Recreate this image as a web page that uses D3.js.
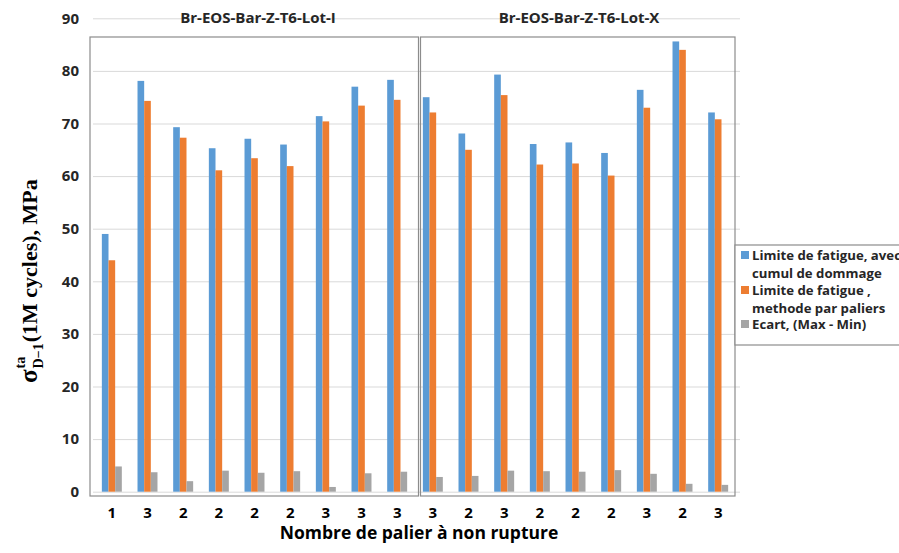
<!DOCTYPE html>
<html><head><meta charset="utf-8">
<script src="https://cdn.jsdelivr.net/npm/d3@7"></script>
<style>body{margin:0;background:#fff;overflow:hidden}svg{display:block}</style>
</head><body>
<svg id="c" width="899" height="553"></svg>
<script>
// ---- data ----
const panels = ["Br-EOS-Bar-Z-T6-Lot-I", "Br-EOS-Bar-Z-T6-Lot-X"];
const tickLabels = ["1","3","2","2","2","2","3","3","3", "3","2","3","2","2","2","3","2","3"];
const seriesNames = ["Limite de fatigue, avec cumul de dommage", "Limite de fatigue , methode par paliers", "Ecart, (Max - Min)"];
const cumulDommage = [49.0,78.1,69.3,65.3,67.1,66.0,71.4,77.0,78.3, 75.0,68.1,79.3,66.1,66.4,64.4,76.4,85.6,72.1];
const methodePaliers = [44.0,74.3,67.3,61.1,63.4,61.9,70.4,73.4,74.5, 72.1,65.0,75.4,62.2,62.4,60.1,73.0,84.0,70.8];
const ecart = [4.8,3.7,2.0,4.0,3.6,3.9,0.9,3.5,3.8, 2.8,3.0,4.0,3.9,3.8,4.1,3.4,1.5,1.3];
const yTicks = [0,10,20,30,40,50,60,70,80,90];
const colors = ["#5B9BD5", "#ED7D31", "#A5A5A5"];

const svg = d3.select("#c");
const F = "'Open Sans', sans-serif";
const y = d3.scaleLinear().domain([0, 90]).range([491.7, 18.3]);
const idx = d3.range(tickLabels.length);
const x = d3.scaleBand().domain(idx).range([94, 736]).paddingInner(0.44).paddingOuter(0.22);
const xs = d3.scaleBand().domain([0,1,2]).range([0, x.bandwidth()]);

// gridlines
const gAxis = d3.axisLeft(y).tickValues(yTicks).tickSize(-(740 - 93)).tickPadding(14);
const ga = svg.append("g").attr("transform", "translate(93,0)").call(gAxis);
ga.select(".domain").remove();
ga.selectAll(".tick line").attr("stroke", "#d9d9d9").attr("stroke-width", 1);
ga.selectAll(".tick text").attr("font-family", F).attr("font-weight", "bold").attr("font-size", 15).attr("fill", "#262626");

// panel boxes
const boxes = [[90, 418.5], [420.5, 735]];
boxes.forEach(b => svg.append("rect").attr("x", b[0]).attr("y", 37).attr("width", b[1] - b[0]).attr("height", 496 - 37)
  .attr("fill", "none").attr("stroke", "#8c8c8c").attr("stroke-width", 1.2));

// panel titles
const titleX = [258, 579];
panels.forEach((p, i) => svg.append("text").attr("x", titleX[i]).attr("y", 23).attr("text-anchor", "middle")
  .attr("font-family", F).attr("font-weight", "bold").attr("font-size", 15).attr("fill", "#262626").text(p));

// bars
const series = [cumulDommage, methodePaliers, ecart];
series.forEach((vals, s) => {
  svg.append("g").selectAll("rect").data(vals).join("rect")
    .attr("x", (d, i) => x(i) + xs(s))
    .attr("width", xs.bandwidth())
    .attr("y", d => y(d))
    .attr("height", d => y(0) - y(d))
    .attr("fill", colors[s]);
});

// x axis labels
const xa = d3.axisBottom(x).tickFormat(i => tickLabels[i]).tickSize(0).tickPadding(10);
const gx = svg.append("g").attr("transform", "translate(0,497)").call(xa);
gx.select(".domain").remove();
gx.selectAll(".tick text").attr("font-family", F).attr("font-weight", "bold").attr("font-size", 15).attr("fill", "#000");

// x title
svg.append("text").attr("x", 419).attr("y", 539).attr("text-anchor", "middle")
  .attr("font-family", F).attr("font-weight", "bold").attr("font-size", 17.5).attr("fill", "#000")
  .text("Nombre de palier à non rupture");

// y title
const yt = svg.append("g").attr("transform", "translate(37,383) rotate(-90)");
const serif = "'Liberation Serif', 'DejaVu Serif', serif";
const sig = yt.append("text").attr("x", 0).attr("y", 0).attr("font-family", serif).attr("font-weight", "bold").attr("font-size", 25).text("σ");
let cx = sig.node().getComputedTextLength() + 1;
const sup = yt.append("text").attr("x", cx).attr("y", -12).attr("font-family", serif).attr("font-weight", "bold").attr("font-size", 14).text("ta");
const sub = yt.append("text").attr("x", cx).attr("y", 6).attr("font-family", serif).attr("font-weight", "bold").attr("font-size", 14).text("D−1");
cx += Math.max(sup.node().getComputedTextLength(), sub.node().getComputedTextLength()) + 1;
yt.append("text").attr("x", cx).attr("y", 0).attr("font-family", serif).attr("font-weight", "bold").attr("font-size", 22).text("(1M cycles), MPa");

// legend
svg.append("rect").attr("x", 735).attr("y", 245).attr("width", 170).attr("height", 100)
  .attr("fill", "#fff").attr("stroke", "#8c8c8c").attr("stroke-width", 1.2);
const legLines = [
  {c: 0, t: "Limite de fatigue, avec", yy: 260},
  {c: -1, t: "cumul de dommage", yy: 278},
  {c: 1, t: "Limite de fatigue ,", yy: 295},
  {c: -1, t: "methode par paliers", yy: 313},
  {c: 2, t: "Ecart, (Max - Min)", yy: 329}
];
legLines.forEach(l => {
  if (l.c >= 0) svg.append("rect").attr("x", 741).attr("y", l.yy - 9).attr("width", 8).attr("height", 8).attr("fill", colors[l.c]);
  svg.append("text").attr("x", 752).attr("y", l.yy).attr("font-family", F).attr("font-weight", "bold")
    .attr("font-size", 13.2).attr("fill", "#262626").text(l.t);
});
</script>
</body></html>
